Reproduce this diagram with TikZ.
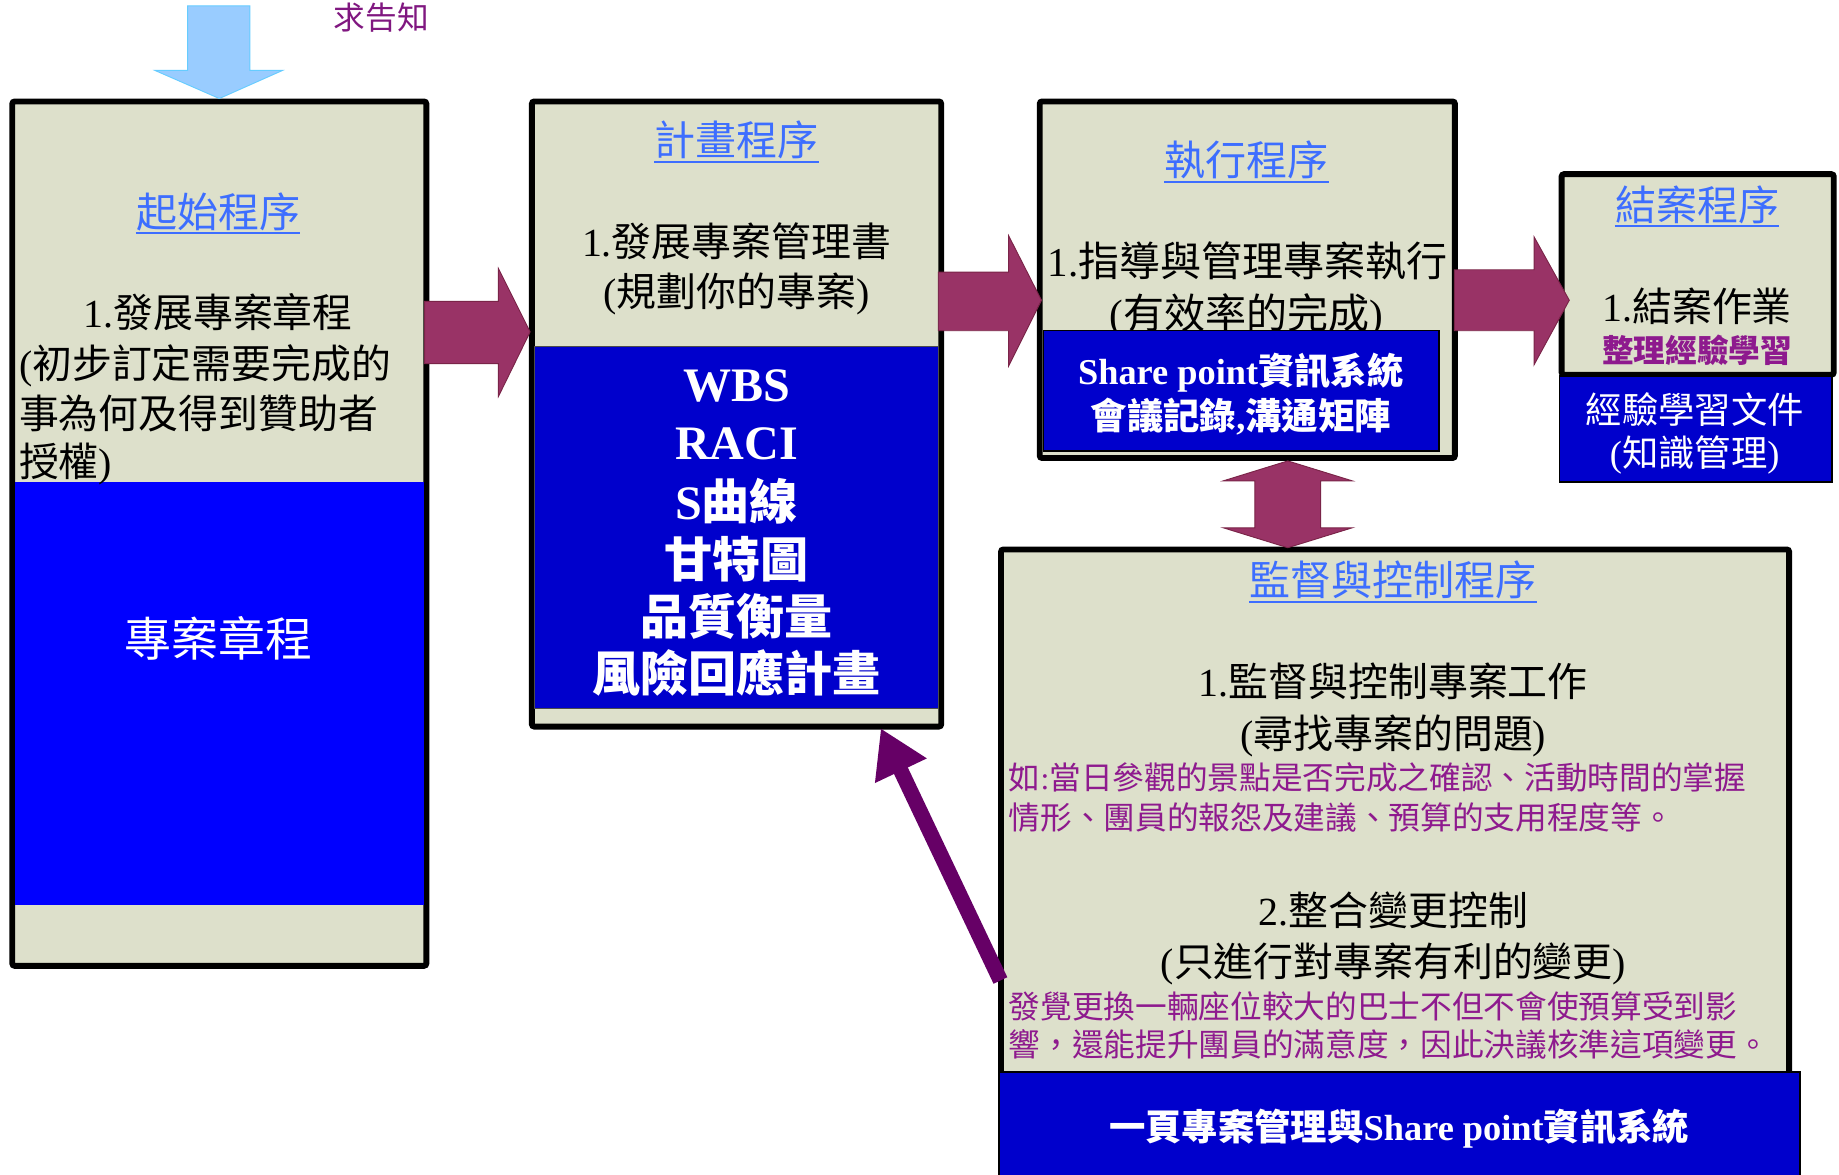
\documentclass[tikz,border=0pt]{standalone}
\usepackage{fontspec}
\setmainfont{Liberation Serif}
\newfontfamily\cjk{Noto Sans CJK TC}
\usetikzlibrary{arrows.meta}
\definecolor{beige}{HTML}{DDE0CB}
\definecolor{bblue}{HTML}{0000FF}
\definecolor{dblue}{HTML}{0000CC}
\definecolor{tblue}{HTML}{3D6EFF}
\definecolor{maroon}{HTML}{993366}
\definecolor{maroonline}{HTML}{7A2448}
\definecolor{sky}{HTML}{99CCFF}
\definecolor{skyline}{HTML}{66CCFF}
\definecolor{purp}{HTML}{8E1A8E}
\definecolor{darkpurp}{HTML}{660066}
\newcommand\tn[1]{{\rmfamily #1}}
\begin{document}
\begin{tikzpicture}[x=1pt,y=-1pt,
  panel/.style={draw=black, line width=5pt, fill=beige, rounded corners=2pt, inner sep=0pt, anchor=north west},
  bluepanel/.style={fill=#1, inner sep=0pt, anchor=north west},
  ttl/.style={text=tblue, inner sep=0pt, anchor=base, font=\cjk\fontsize{35}{40}\selectfont},
  body/.style={text=black, inner sep=0pt, anchor=base, font=\cjk\fontsize{34}{40}\selectfont},
  bodyl/.style={body, anchor=base west},
  wbold/.style={text=white, inner sep=0pt, anchor=base, font=\cjk\bfseries\fontsize{#1}{#1}\selectfont},
  note/.style={text=purp, inner sep=0pt, anchor=base west, font=\cjk\fontsize{27}{30}\selectfont},
  blockarrow/.style={fill=maroon, draw=maroonline, line width=0.8pt},
  uline/.style={tblue, line width=1.6pt}
]
\fill[white] (0,0) rectangle (1568,1001);
\useasboundingbox (0,0) rectangle (1568,1001);

% ---------- panels ----------
\node[panel, minimum width=353pt, minimum height=737pt] (b1) at (8,84) {};
\node[panel, minimum width=349pt, minimum height=533pt] (b2) at (451,84) {};
\node[panel, minimum width=354pt, minimum height=304pt] (b3) at (884,84) {};
\node[panel, minimum width=232pt, minimum height=171pt] (b4) at (1329,146) {};
\node[panel, minimum width=672pt, minimum height=481pt] (b5) at (851,466) {};

% ---------- box 1 ----------
\node[bluepanel=bblue, minimum width=348pt, minimum height=360pt] (bl1) at (13,411) {};
\node[ttl] (t1) at (186,194) {起始程序};
\draw[uline] ([yshift=-5pt]t1.base west) -- ([yshift=-5pt]t1.base east);
\node[body] (p1a) at (186,279) {\tn{1.}發展專案章程};
\node[bodyl] (p1b) at (16,323) {\tn{(}初步訂定需要完成的};
\node[bodyl] (p1c) at (16,365) {事為何及得到贊助者};
\node[bodyl] (p1d) at (16,406) {授權\tn{)}};
\node[text=white, inner sep=0pt, anchor=base, font=\cjk\fontsize{40}{44}\selectfont] (c1) at (186,560) {專案章程};

% ---------- box 2 ----------
\node[bluepanel=dblue, draw=black!70, line width=0.8pt, minimum width=345pt, minimum height=309pt] (bl2) at (455,295) {};
\node[ttl] (t2) at (628,133) {計畫程序};
\draw[uline] ([yshift=-5pt]t2.base west) -- ([yshift=-5pt]t2.base east);
\node[body] (p2a) at (628,219) {\tn{1.}發展專案管理書};
\node[body] (p2b) at (628,261) {\tn{(}規劃你的專案\tn{)}};
\node[wbold=41] (w1) at (628,342) {\tn{WBS}};
\node[wbold=41] (w2) at (628,392) {\tn{RACI}};
\node[wbold=41] (w3) at (628,443) {\tn{S}曲線};
\node[wbold=41] (w4) at (628,492) {甘特圖};
\node[wbold=41] (w5) at (628,541) {品質衡量};
\node[wbold=41] (w6) at (628,590) {風險回應計畫};

% ---------- box 3 ----------
\node[ttl] (t3) at (1063,150) {執行程序};
\draw[uline] ([yshift=-5pt]t3.base west) -- ([yshift=-5pt]t3.base east);
\node[body, font=\cjk\fontsize{35}{40}\selectfont] (p3a) at (1064,236) {\tn{1.}指導與管理專案執行};
\node[body, font=\cjk\fontsize{35}{40}\selectfont] (p3b) at (1063,280) {\tn{(}有效率的完成\tn{)}};
\node[bluepanel=dblue, draw=black, line width=1.5pt, minimum width=337pt, minimum height=103pt] (bl3) at (889,281) {};
\node[wbold=31] (s3a) at (1058,328) {\tn{Share point}資訊系統};
\node[wbold=31] (s3b) at (1058,366) {會議記錄\tn{,}溝通矩陣};

% ---------- box 4 ----------
\node[ttl] (t4) at (1447,188) {結案程序};
\draw[uline] ([yshift=-5pt]t4.base west) -- ([yshift=-5pt]t4.base east);
\node[body] (p4a) at (1447,274) {\tn{1.}結案作業};
\node[note, anchor=base, font=\cjk\bfseries\fontsize{27}{30}\selectfont] (p4b) at (1447,309) {整理經驗學習};
\node[bluepanel=dblue, draw=black, line width=1.5pt, minimum width=232pt, minimum height=90pt] (bl4) at (1329,320) {};
\node[text=white, inner sep=0pt, anchor=base, font=\cjk\fontsize{31}{34}\selectfont] (s4a) at (1445,361) {經驗學習文件};
\node[text=white, inner sep=0pt, anchor=base, font=\cjk\fontsize{31}{34}\selectfont] (s4b) at (1445,398) {\tn{(}知識管理\tn{)}};

% ---------- box 5 ----------
\node[ttl] (t5) at (1188,508) {監督與控制程序};
\draw[uline] ([yshift=-5pt]t5.base west) -- ([yshift=-5pt]t5.base east);
\node[body] (p5a) at (1188,594) {\tn{1.}監督與控制專案工作};
\node[body] (p5b) at (1188,638) {\tn{(}尋找專案的問題\tn{)}};
\node[note] (n5a) at (860,673) {如\tn{:}當日參觀的景點是否完成之確認、活動時間的掌握};
\node[note] (n5b) at (860,707) {情形、團員的報怨及建議、預算的支用程度等。};
\node[body] (p5c) at (1188,789) {\tn{2.}整合變更控制};
\node[body] (p5d) at (1188,833) {\tn{(}只進行對專案有利的變更\tn{)}};
\node[note] (n5c) at (860,868) {發覺更換一輛座位較大的巴士不但不會使預算受到影};
\node[note] (n5d) at (860,901) {響，還能提升團員的滿意度，因此決議核準這項變更。};
\node[bluepanel=dblue, draw=black, line width=1.5pt, minimum width=683pt, minimum height=95pt] (bl5) at (851,913) {};
\node[wbold=31] (s5) at (1193,972) {一頁專案管理與\tn{Share point}資訊系統};

% ---------- top input arrow ----------
\node[text=purp!90!black, inner sep=0pt, anchor=base, font=\cjk\fontsize{27}{30}\selectfont] (req) at (325,25) {求告知};
\fill[sky, draw=skyline, line width=0.8pt]
  (160,5) -- (213,5) -- (213,60) -- (241,60) -- (b1.north |- 0,84) -- (132,60) -- (160,60) -- cycle;

% ---------- block arrows ----------
\draw[blockarrow] (362,257) -- (425,257) -- (425,229) -- (452,283) -- (425,338) -- (425,310) -- (362,310) -- cycle;
\draw[blockarrow] (800,232) -- (860,232) -- (860,201) -- (888,256) -- (860,312) -- (860,282) -- (800,282) -- cycle;
\draw[blockarrow] (1240,230) -- (1308,230) -- (1308,202) -- (1338,256) -- (1308,311) -- (1308,282) -- (1240,282) -- cycle;
\draw[blockarrow] (1098,393) -- (1153,410) -- (1126,410) -- (1126,450) -- (1153,450) -- (1098,467)
  -- (1043,450) -- (1070,450) -- (1070,410) -- (1043,410) -- cycle;

% ---------- feedback arrow ----------
\coordinate (fa) at (853,836);
\coordinate (fb) at (751,621);
\draw[darkpurp, line width=13pt, -{Triangle[length=40pt,width=46pt]}] (fa) -- (fb);
\end{tikzpicture}
\end{document}
